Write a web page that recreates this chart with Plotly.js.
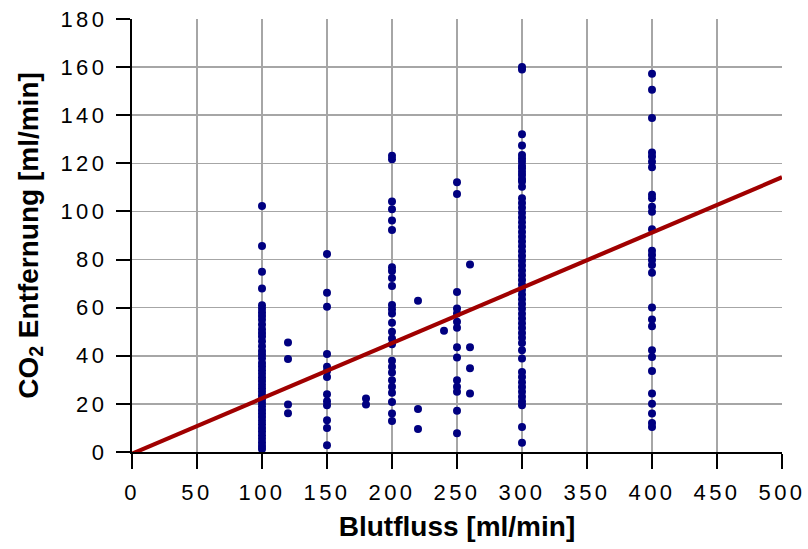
<!DOCTYPE html>
<html>
<head>
<meta charset="utf-8">
<script src="https://cdn.plot.ly/plotly-3.0.1.min.js"></script>
<style>
  html, body { margin: 0; padding: 0; background: #fff; }
  #chart { width: 808px; height: 549px; }
  .xtick text, .ytick text { letter-spacing: 3.5px; }
</style>
</head>
<body>
<div id="chart"></div>
<script>
// Blood flow groups [ml/min] and CO2 removal values [ml/min]
const y100 = [102.3, 85.6, 74.9, 68.0, 61, 59.5, 58, 56.5, 55, 53, 51, 49.5, 48, 46, 44, 42, 40.5, 39, 37, 35.5, 34, 32.5, 31, 29.5, 28, 26.5, 25, 23.5, 22, 20.5, 19, 17.5, 16, 14.5, 13, 11.5, 10, 8.5, 7, 5.5, 4, 2.5, 1.2];
const y120 = [45.5, 38.7, 19.7, 16.1];
const y150 = [82.3, 66.2, 60.4, 40.7, 35.4, 33.7, 31.2, 24.0, 21.1, 19.4, 13.2, 10.0, 2.8];
const y180 = [22.2, 19.7];
const y200 = [123.2, 121.7, 104.1, 100.9, 96.2, 92.3, 76.8, 75.2, 72.3, 69.0, 61.1, 59.3, 57.6, 53.7, 50.0, 47.2, 44.8, 37.9, 35.4, 33.0, 29.8, 27.1, 24.6, 20.8, 16.0, 12.9];
const y220 = [62.9, 17.9, 9.6];
const y240 = [50.4];
const y250 = [112.1, 107.3, 66.5, 59.7, 57.6, 54.1, 51.6, 43.5, 39.3, 29.8, 27.1, 25.0, 17.1, 7.8];
const y260 = [77.9, 43.5, 34.8, 24.3];
const y300 = [160, 159, 132.1, 127.4, 123.5, 122, 120.7, 119, 118, 116.5, 115.2, 113.5, 112.4, 110.3, 105.5, 103.5, 101.5, 99.5, 97.5, 95.5, 93.5, 91.5, 89.5, 87.5, 85.5, 83.5, 81.5, 79.5, 77.5, 75.5, 73.5, 71.5, 69.5, 67.5, 65.5, 63.5, 61.5, 59.5, 57.5, 55.5, 53.5, 51.5, 49.5, 47.5, 45.3, 42.3, 38.9, 33.3, 31.2, 29, 27, 25, 23, 21, 19.4, 10.4, 3.8];
const y400 = [157.2, 150.6, 138.8, 124.5, 122.8, 120.7, 118.4, 106.9, 105.5, 102.0, 99.9, 92.6, 83.7, 81.9, 79.8, 77.7, 74.5, 60.1, 55.1, 52.3, 42.3, 39.5, 33.7, 24.3, 20.1, 16.0, 12.1, 10.4];

const flowGroups = [100, 120, 150, 180, 200, 220, 240, 250, 260, 300, 400];
const co2Groups  = [y100, y120, y150, y180, y200, y220, y240, y250, y260, y300, y400];

// Trend line end points
const fitX = [0, 500];
const fitY = [-0.7, 114.2];

// Tick values
const xTicks = [0, 50, 100, 150, 200, 250, 300, 350, 400, 450, 500];
const yTicks = [0, 20, 40, 60, 80, 100, 120, 140, 160, 180];

const flowX = [], co2Y = [];
flowGroups.forEach((f, i) => co2Groups[i].forEach(v => { flowX.push(f); co2Y.push(v); }));

const traces = [
  {
    x: flowX, y: co2Y, type: 'scatter', mode: 'markers',
    marker: { color: '#000080', size: 8 },
    hoverinfo: 'x+y', showlegend: false
  },
  {
    x: fitX, y: fitY, type: 'scatter', mode: 'lines',
    line: { color: '#A00000', width: 4.2 },
    showlegend: false
  }
];

const layout = {
  width: 808, height: 549,
  paper_bgcolor: '#ffffff', plot_bgcolor: '#ffffff',
  margin: { l: 132, r: 26, t: 19, b: 97 },
  font: { family: '"Liberation Sans", Arial, sans-serif', color: '#000' },
  xaxis: {
    range: [0, 500], tickvals: xTicks, ticktext: xTicks.map(String),
    showgrid: true, gridcolor: '#A6A6A6', gridwidth: 1.5,
    showline: true, linecolor: '#000', linewidth: 2,
    ticks: 'outside', ticklen: 15, tickwidth: 2, tickcolor: '#000',
    tickfont: { size: 22, color: '#000' },
    ticklabelstandoff: 5,
    zeroline: false,
    title: { text: 'Blutfluss [ml/min]', font: { size: 28, weight: 'bold', color: '#000' }, standoff: 12 },
    fixedrange: true
  },
  yaxis: {
    range: [0, 180], tickvals: yTicks, ticktext: yTicks.map(String),
    showgrid: true, gridcolor: '#A6A6A6', gridwidth: 1.5,
    showline: true, linecolor: '#000', linewidth: 2,
    ticks: 'outside', ticklen: 14, tickwidth: 2, tickcolor: '#000',
    tickfont: { size: 22, color: '#000' },
    ticklabelstandoff: 4,
    zeroline: false,
    title: { text: 'CO<sub>2</sub> Entfernung [ml/min]', font: { size: 28, weight: 'bold', color: '#000' }, standoff: 14 },
    fixedrange: true
  }
};

Plotly.newPlot('chart', traces, layout, { displayModeBar: false, staticPlot: true });
</script>
</body>
</html>
